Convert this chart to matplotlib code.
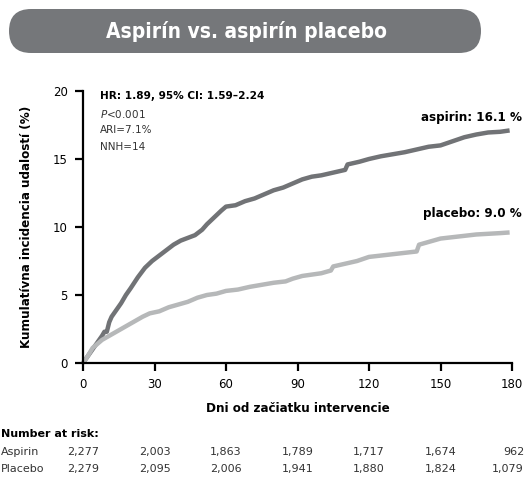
import numpy as np
import matplotlib
matplotlib.use("Agg")
import matplotlib.pyplot as plt
from matplotlib.patches import FancyBboxPatch

# cumulative incidence curves (days, %)
aspirin_t = [0, 2, 4, 6, 8, 9, 10, 11, 12, 14, 16, 18, 20, 23, 26, 29, 32, 35, 38, 41, 44,
             47, 50, 52, 55, 58, 60, 64, 68, 72, 76, 80, 84, 88, 92, 96, 100, 105, 110,
             111, 116, 120, 125, 130, 135, 140, 145, 150, 155, 160, 165, 170, 175, 179]
aspirin_v = [0, 0.5, 1.0, 1.5, 2.0, 2.3, 2.3, 3.0, 3.4, 3.9, 4.4, 5.0, 5.5, 6.3, 7.0, 7.5,
             7.9, 8.3, 8.7, 9.0, 9.2, 9.4, 9.8, 10.2, 10.7, 11.2, 11.5, 11.6, 11.9, 12.1,
             12.4, 12.7, 12.9, 13.2, 13.5, 13.7, 13.8, 14.0, 14.2, 14.6, 14.8, 15.0, 15.2,
             15.35, 15.5, 15.7, 15.9, 16.0, 16.3, 16.6, 16.8, 16.95, 17.0, 17.1]
placebo_t = [0, 2, 4, 6, 8, 10, 13, 16, 19, 22, 25, 28, 32, 36, 40, 44, 48, 52, 56, 60,
             65, 70, 75, 80, 85, 88, 92, 96, 100, 104, 105, 110, 115, 120, 125, 130, 135,
             140, 141, 145, 150, 155, 160, 165, 170, 175, 179]
placebo_v = [0, 0.5, 1.1, 1.4, 1.7, 1.9, 2.2, 2.5, 2.8, 3.1, 3.4, 3.65, 3.8, 4.1, 4.3, 4.5,
             4.8, 5.0, 5.1, 5.3, 5.4, 5.6, 5.75, 5.9, 6.0, 6.2, 6.4, 6.5, 6.6, 6.8, 7.1,
             7.3, 7.5, 7.8, 7.9, 8.0, 8.1, 8.2, 8.7, 8.9, 9.15, 9.25, 9.35, 9.45, 9.5,
             9.55, 9.6]

x_ticks = [0, 30, 60, 90, 120, 150, 180]
y_ticks = [0, 5, 10, 15, 20]
risk_aspirin = ["2,277", "2,003", "1,863", "1,789", "1,717", "1,674", "962"]
risk_placebo = ["2,279", "2,095", "2,006", "1,941", "1,880", "1,824", "1,079"]

dark = "#717376"
light = "#b6b8b9"
plt.rcParams['font.family'] = ['DejaVu Sans']
cond = dict(fontstretch="condensed")

W, H = 525, 479
fig = plt.figure(figsize=(W / 100, H / 100), dpi=100)


def fx(x):
    return x / W


def fy(y):
    return 1 - y / H


# axes box in pixels: x 83..512, y 91..363
ax = fig.add_axes([fx(83), fy(363), fx(512) - fx(83), fy(91) - fy(363)])
ax.plot(aspirin_t, aspirin_v, color=dark, lw=3.2, clip_on=False, solid_capstyle="butt")
ax.plot(placebo_t, placebo_v, color=light, lw=3.2, clip_on=False, solid_capstyle="butt")
ax.set_xlim(0, 180)
ax.set_ylim(0, 20)
ax.set_xticks(x_ticks)
ax.set_yticks(y_ticks)
ax.spines['top'].set_visible(False)
ax.spines['right'].set_visible(False)
ax.spines['left'].set_linewidth(1.6)
ax.spines['bottom'].set_linewidth(1.6)
ax.tick_params(length=6, width=1.6, labelsize=8.5, colors="black", pad=5)
ax.set_xlabel("Dni od začiatku intervencie", fontsize=9.5, fontweight="bold", labelpad=8,
              **cond)
ax.set_ylabel("Kumulatívna incidencia udalostí (%)", fontsize=9.5, fontweight="bold",
              labelpad=14, **cond)

# stats text
fig.text(fx(100), fy(96), "HR: 1.89, 95% CI: 1.59–2.24", fontsize=7.6, fontweight="bold",
         va="center", ha="left")
fig.text(fx(100), fy(114), r"$\it{P}$<0.001", fontsize=7.5, va="center", ha="left",
         color="#333333")
fig.text(fx(100), fy(130), "ARI=7.1%", fontsize=7.5, va="center", ha="left", color="#333333")
fig.text(fx(100), fy(147), "NNH=14", fontsize=7.5, va="center", ha="left", color="#333333")

fig.text(fx(522), fy(118), "aspirin: 16.1 %", fontsize=9.5, fontweight="bold",
         va="center", ha="right", **cond)
fig.text(fx(522), fy(213), "placebo: 9.0 %", fontsize=9.5, fontweight="bold",
         va="center", ha="right", **cond)

# title pill
pill = FancyBboxPatch((fx(9), fy(53)), fx(481) - fx(9), fy(9) - fy(53),
                      boxstyle="round,pad=0.0,rounding_size=0.042",
                      transform=fig.transFigure, facecolor="#75777a", edgecolor="none",
                      mutation_aspect=W / H)
fig.patches.append(pill)
fig.text(fx(247), fy(32), "Aspirín vs. aspirín placebo", color="white", fontsize=15,
         fontweight="bold", ha="center", va="center", **cond)

# number at risk table
fig.text(fx(1), fy(434), "Number at risk:", fontsize=8, fontweight="bold",
         va="center", ha="left")
fig.text(fx(1), fy(452), "Aspirin", fontsize=8, va="center", ha="left", color="#333333")
fig.text(fx(1), fy(469), "Placebo", fontsize=8, va="center", ha="left", color="#333333")
for i, (t, a, p) in enumerate(zip(x_ticks, risk_aspirin, risk_placebo)):
    xp = ax.transData.transform((t, 0))[0] / W
    ha = "center"
    if i == len(x_ticks) - 1:
        xp, ha = fx(524), "right"
    fig.text(xp, fy(452), a, fontsize=8, va="center", ha=ha, color="#333333")
    fig.text(xp, fy(469), p, fontsize=8, va="center", ha=ha, color="#333333")

fig.savefig("out.png", dpi=100)
